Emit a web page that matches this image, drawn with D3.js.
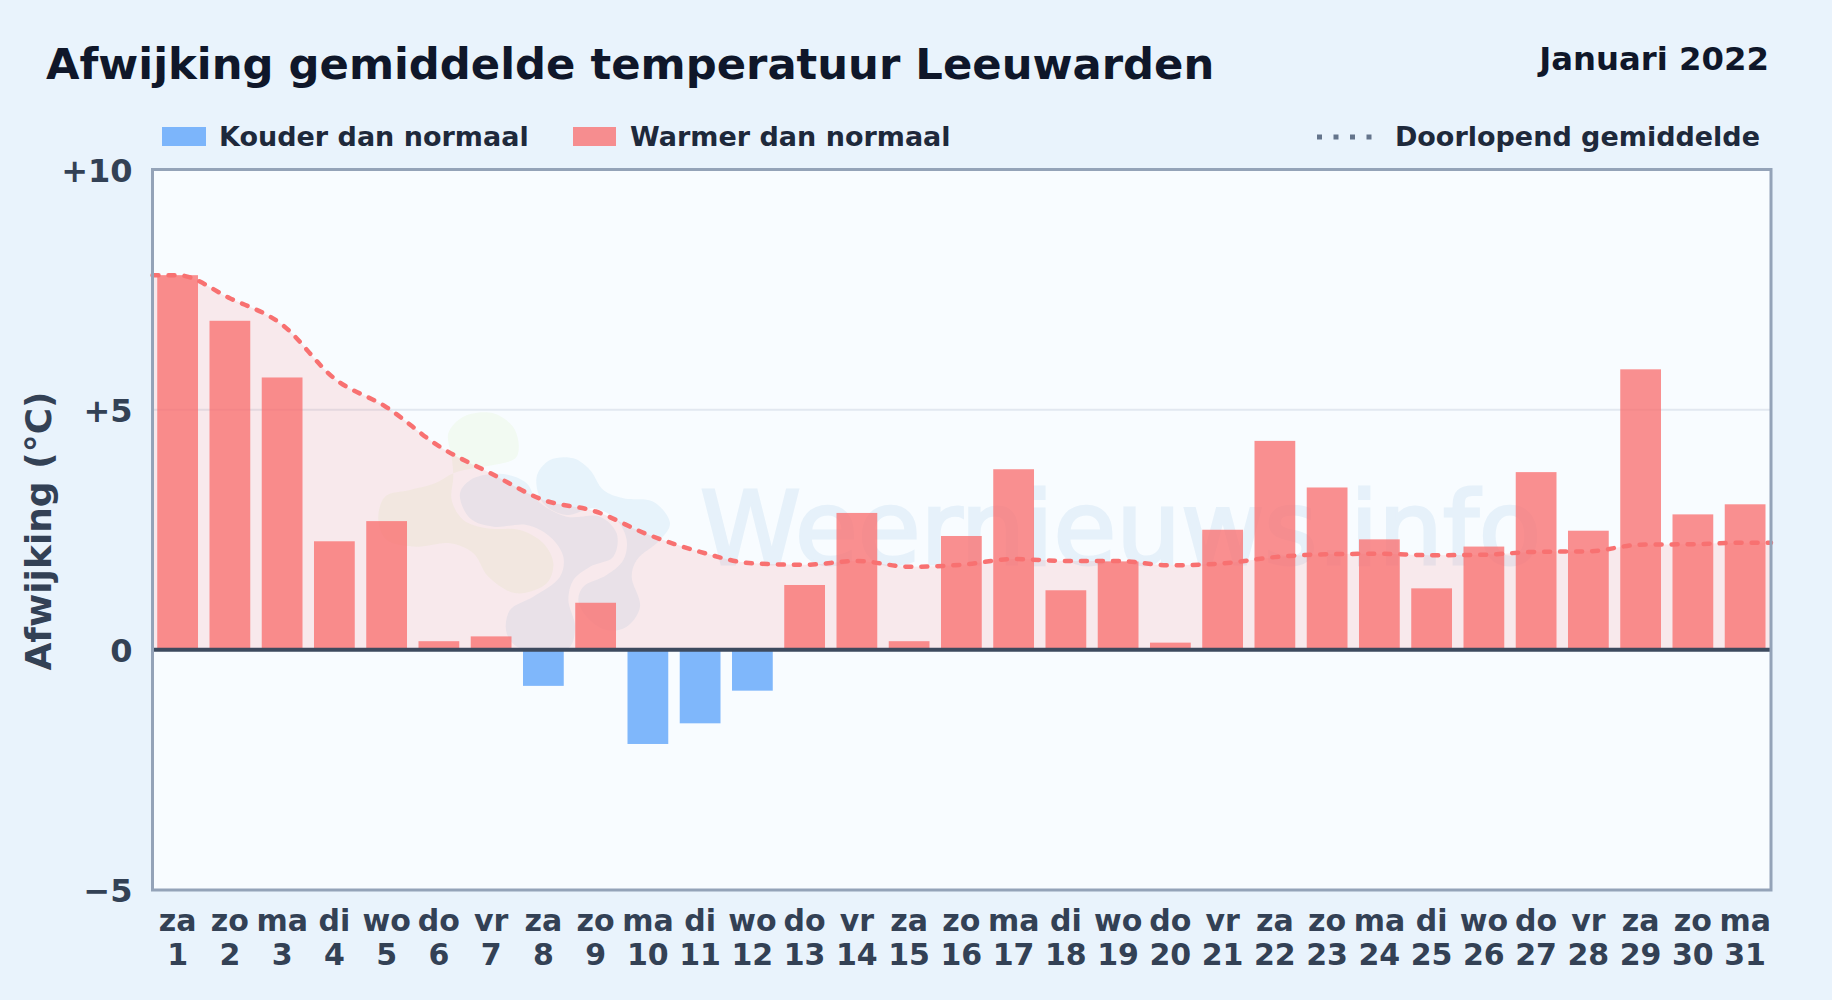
<!DOCTYPE html>
<html>
<head>
<meta charset="utf-8">
<script src="https://cdn.jsdelivr.net/npm/d3@7"></script>
<style>
    html, body { margin: 0; padding: 0; background: #e9f3fc; }
    svg { display: block; font-family: "DejaVu Sans", sans-serif; }
    text { font-weight: bold; }
</style>
</head>
<body>
<svg id="chart" width="1832" height="1000"></svg>
<script>
// day of the month and weekday
const days = d3.range(1, 32);
const weekdays = ['za', 'zo', 'ma', 'di', 'wo', 'do', 'vr', 'za', 'zo', 'ma', 'di', 'wo', 'do', 'vr', 'za', 'zo',
    'ma', 'di', 'wo', 'do', 'vr', 'za', 'zo', 'ma', 'di', 'wo', 'do', 'vr', 'za', 'zo', 'ma'];
// deviation from normal per day
const deviation = [7.8, 6.85, 5.67, 2.26, 2.68, 0.18, 0.28, -0.75, 0.98, -1.96, -1.53, -0.85, 1.35, 2.85, 0.18, 2.37,
    3.76, 1.24, 1.84, 0.15, 2.5, 4.35, 3.38, 2.3, 1.28, 2.15, 3.7, 2.48, 5.84, 2.82, 3.03];
// running mean
const runningMean = [7.8, 7.32, 6.77, 5.65, 5.05, 4.24, 3.67, 3.12, 2.88, 2.4, 2.04, 1.8, 1.77, 1.85, 1.73, 1.77,
    1.89, 1.85, 1.85, 1.76, 1.8, 1.93, 1.99, 2.0, 1.97, 1.98, 2.04, 2.05, 2.19, 2.2, 2.23];
const yTicks = [-5, 0, 5, 10];
const yTickLabels = ['\u22125', '0', '+5', '+10'];

const svg = d3.select('#chart');
const plot = { left: 152.5, right: 1771, top: 169.5, bottom: 890 };

const x = d3.scaleBand().domain(days).range([151.5, 1771.25]).paddingInner(0.22).paddingOuter(0.11);
const y = d3.scaleLinear().domain([-5, 10]).range([plot.bottom, plot.top]);

// plot background
svg.append('rect')
    .attr('x', plot.left).attr('y', plot.top)
    .attr('width', plot.right - plot.left).attr('height', plot.bottom - plot.top)
    .attr('fill', '#f8fcff');

svg.append('clipPath').attr('id', 'plotClip').append('rect')
    .attr('x', plot.left).attr('y', plot.top)
    .attr('width', plot.right - plot.left).attr('height', plot.bottom - plot.top);

// watermark logo, outlines taken from a 3x crop at (360,400)
const blob = d3.line()
    .x(d => 360 + d[0] / 3)
    .y(d => 400 + d[1] / 3)
    .curve(d3.curveCatmullRomClosed.alpha(0.5));
const logo = svg.append('g').attr('clip-path', 'url(#plotClip)');
logo.append('path').attr('fill', '#f2faf2').attr('d', blob([[265, 100], [310, 50], [400, 40], [465, 90], [470, 170],
    [400, 195], [340, 205], [280, 220], [225, 250], [150, 270], [75, 290], [55, 360], [80, 420], [170, 440], [270, 430],
    [340, 460], [385, 530], [470, 580], [560, 550], [580, 490], [550, 430], [480, 390], [380, 385], [310, 360],
    [275, 300], [280, 230], [275, 170]]));
logo.append('path').attr('fill', '#e7f3fb').attr('d', blob([[300, 280], [340, 235], [430, 222], [500, 250], [530, 300],
    [620, 350], [720, 350], [770, 400], [760, 470], [690, 500], [640, 540], [625, 600], [645, 680], [625, 745],
    [480, 745], [440, 700], [450, 630], [520, 590], [600, 530], [610, 470], [570, 410], [500, 375], [400, 380], [330, 355]]));
logo.append('path').attr('fill', '#e7f3fb').attr('d', blob([[530, 230], [570, 180], [640, 175], [690, 210], [730, 270],
    [790, 295], [880, 305], [930, 370], [900, 420], [830, 480], [815, 530], [840, 620], [800, 680], [740, 690],
    [680, 650], [655, 600], [670, 560], [740, 525], [790, 480], [800, 420], [770, 360], [700, 325], [620, 345], [550, 310]]));

// watermark text
svg.append('text')
    .attr('x', 700).attr('y', 564)
    .attr('font-size', 102)
    .style('font-weight', 'normal')
    .attr('fill', '#e6f1fa')
    .attr('stroke', '#e6f1fa')
    .attr('stroke-width', 3)
    .text('Weernieuws.info');

// gridline at +5
svg.append('line')
    .attr('x1', plot.left).attr('x2', plot.right)
    .attr('y1', y(5)).attr('y2', y(5))
    .attr('stroke', '#e2e8f0').attr('stroke-width', 2);

// running mean runs on from the centre of the first and last bar to the frame
const meanPoints = [[plot.left, runningMean[0]]]
    .concat(days.map((d, i) => [x(d) + x.bandwidth() / 2, runningMean[i]]))
    .concat([[plot.right, runningMean[runningMean.length - 1]]]);

const area = d3.area()
    .x(d => d[0])
    .y0(y(0))
    .y1(d => y(d[1]))
    .curve(d3.curveMonotoneX);
svg.append('path')
    .attr('d', area(meanPoints))
    .attr('fill', 'rgba(250,107,107,0.13)');

// bars
svg.selectAll('.bar')
    .data(days)
    .join('rect')
    .attr('class', 'bar')
    .attr('x', d => x(d))
    .attr('width', x.bandwidth())
    .attr('y', (d, i) => y(Math.max(0, deviation[i])))
    .attr('height', (d, i) => Math.abs(y(deviation[i]) - y(0)))
    .attr('fill', (d, i) => deviation[i] < 0 ? 'rgba(96,165,250,0.8)' : 'rgba(250,107,107,0.75)');

// running mean line
const meanLine = d3.line()
    .x(d => d[0])
    .y(d => y(d[1]))
    .curve(d3.curveMonotoneX);
svg.append('path')
    .attr('d', meanLine(meanPoints))
    .attr('fill', 'none')
    .attr('stroke', '#f87171')
    .attr('stroke-width', 4.5)
    .attr('stroke-linecap', 'round')
    .attr('stroke-dasharray', '6 10');

// zero line
svg.append('line')
    .attr('x1', plot.left).attr('x2', plot.right)
    .attr('y1', y(0)).attr('y2', y(0))
    .attr('stroke', '#3d4a5e').attr('stroke-width', 4);

// frame
svg.append('rect')
    .attr('x', plot.left).attr('y', plot.top)
    .attr('width', plot.right - plot.left).attr('height', plot.bottom - plot.top)
    .attr('fill', 'none')
    .attr('stroke', '#94a3b8').attr('stroke-width', 3);

// y axis
const yAxis = svg.append('g')
    .attr('transform', `translate(${plot.left},0)`)
    .call(d3.axisLeft(y)
        .tickValues(yTicks)
        .tickSize(0)
        .tickPadding(20)
        .tickFormat((d, i) => yTickLabels[i]));
yAxis.select('.domain').remove();
yAxis.selectAll('text')
    .attr('font-size', 32)
    .attr('font-family', '"DejaVu Sans", sans-serif')
    .attr('fill', '#334155')
    .attr('dy', '0.36em');

// x axis, two lines per tick
const xAxis = svg.append('g')
    .attr('transform', `translate(0,${plot.bottom})`)
    .call(d3.axisBottom(x).tickSize(0).tickFormat(''));
xAxis.select('.domain').remove();
xAxis.selectAll('.tick text').remove();
xAxis.selectAll('.tick').each(function (d, i) {
    const label = d3.select(this).append('text')
        .attr('text-anchor', 'middle')
        .attr('font-size', 30)
        .attr('font-family', '"DejaVu Sans", sans-serif')
        .attr('fill', '#334155');
    label.append('tspan').attr('x', 0).attr('y', 41).text(weekdays[i]);
    label.append('tspan').attr('x', 0).attr('y', 75).text(d);
});

// y axis title
svg.append('text')
    .attr('transform', 'translate(51,531) rotate(-90)')
    .attr('text-anchor', 'middle')
    .attr('font-size', 36)
    .attr('fill', '#334155')
    .text('Afwijking (\u00b0C)');

// titles
svg.append('text')
    .attr('x', 46).attr('y', 79)
    .attr('font-size', 43.3)
    .attr('fill', '#0f172a')
    .text('Afwijking gemiddelde temperatuur Leeuwarden');
svg.append('text')
    .attr('x', 1769).attr('y', 70)
    .attr('text-anchor', 'end')
    .attr('font-size', 32.3)
    .attr('fill', '#0f172a')
    .text('Januari 2022');

// legend
svg.append('rect').attr('x', 162).attr('y', 127).attr('width', 44).attr('height', 19).attr('fill', 'rgba(96,165,250,0.8)');
svg.append('text').attr('x', 219).attr('y', 146).attr('font-size', 27).attr('fill', '#1e293b').text('Kouder dan normaal');
svg.append('rect').attr('x', 573).attr('y', 127).attr('width', 43).attr('height', 19).attr('fill', 'rgba(250,107,107,0.75)');
svg.append('text').attr('x', 630).attr('y', 146).attr('font-size', 27).attr('fill', '#1e293b').text('Warmer dan normaal');
svg.append('line')
    .attr('x1', 1317).attr('x2', 1375).attr('y1', 137).attr('y2', 137)
    .attr('stroke', '#64748b').attr('stroke-width', 5)
    .attr('stroke-dasharray', '5 11.5');
svg.append('text').attr('x', 1760).attr('y', 146).attr('text-anchor', 'end').attr('font-size', 27).attr('fill', '#1e293b').text('Doorlopend gemiddelde');
</script>
</body>
</html>
